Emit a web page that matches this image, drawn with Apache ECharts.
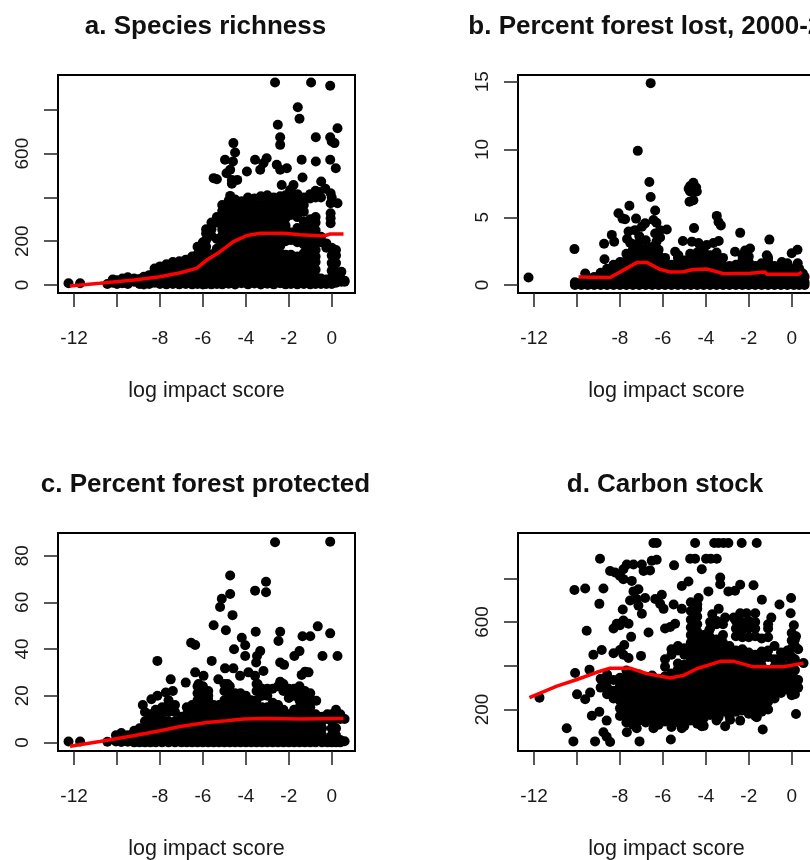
<!DOCTYPE html>
<html><head><meta charset="utf-8">
<style>html,body{margin:0;padding:0;background:#fff}#c{width:810px;height:860px}</style>
<script src="https://cdn.jsdelivr.net/npm/echarts@6/dist/echarts.min.js"></script>
</head><body><div id="c"></div>
<script>
const titles = ['a. Species richness','b. Percent forest lost, 2000-2012','c. Percent forest protected','d. Carbon stock'];
const xLabel = 'log impact score';
const xTicks = [-12,-10,-8,-6,-4,-2,0];
const xTickLabels = [-12,-8,-6,-4,-2,0];

// ---------- a. Species richness
const aTicks = [0,200,400,600,800];
const aTickLabels = [0,200,600];
const aPoints = [[-2.64,925],[-0.96,925],[-0.07,910],[-1.58,812],[-1.5,759],[-2.51,732],[-2.4,675],[-2.4,640],[0.27,716],[-0.74,675],[-0.07,675],[0,655],[0.13,648],[-4.58,648],[-4.5,605],[-4.97,572],[-4.6,564],[-4.73,526],[-4.9,510],[-5.5,488],[-5.35,483],[-4.65,480],[-4.4,480],[-4.65,462],[-4.73,407],[-3.95,518],[-3.57,572],[-3.03,579],[-3.18,556],[-3.33,526],[-2.56,549],[-2.4,526],[-2.09,533],[-1.4,572],[-0.74,564],[-0.07,572],[0.19,533],[-1.36,491],[-0.49,473],[-2.33,457],[-1.78,457],[-1.94,434],[-12.26,8],[-11.72,8],[-0.05,282],[-0.05,305],[-0.05,328],[-0.05,373],[0,400],[-0.05,419],[0.27,373],[-0.3,440],[-0.6,425]];
const aColumns = [
[-10.45,[5]],[-10.2,[10,25]],[-10,[22,5]],[-9.75,[30,8]],[-9.5,[35,5]],[-9.2,[15,30]],[-8.95,[5,28]],[-8.75,[2,38]],[-8.5,[5,30,45]],[-8.25,[10,40,60,75]],
[-8,[5,30,55,85]],[-7.7,[3,28,55,80,95]],[-7.4,[5,30,58,85,105]],[-7.1,[3,25,52,80,108]],[-6.8,[5,32,60,88,115]],[-6.5,[3,28,55,82,110,130]],[-6.25,[5,30,58,85,115,140,175]],[-6,[2,28,55,85,112,140,170,195]],
[-5.85,[5,32,60,88,115,145,175,205,235,255]],[-5.6,[3,30,58,85,112,140,225,255,285]],[-5.35,[5,32,60,88,115,142,165,210,285,310]],
[-5.1,[3,30,58,86,114,142,170,198,226,254,282,310,338,365]],[-4.8,[6,38,70,102,134,166,198,230,262,294,326,358,385]],[-4.5,[2,34,66,98,130,162,194,226,258,290,322,354,390]],
[-4.2,[8,42,76,110,144,178,212,246,280,314,348,382]],[-3.9,[3,36,69,102,135,168,201,234,267,300,333,366,400]],[-3.6,[7,40,72,106,140,172,205,238,272,305,338,372,395]],
[-3.3,[2,35,68,100,134,166,200,232,266,298,332,364,405]],[-3,[6,40,74,108,142,176,210,244,278,312,346,380,410]],[-2.7,[3,37,70,104,138,172,206,240,274,308,342,376,400]],
[-2.4,[8,42,76,110,144,178,212,246,280,314,348,382,405]],[-2.15,[3,36,70,104,138,200,235,270,305,340,375,410]],
[-1.9,[5,38,72,105,138,205,240,320,355,395,430]],[-1.6,[3,35,70,100,130,195,225,260,310,345,380,415]],[-1.3,[5,40,75,110,145,185,215,250,290,335,365,400]],
[-1,[3,35,70,105,140,175,205,240,270,300,395,415]],[-0.75,[5,38,70,105,130,160,190,215,250,285,310,400,430]],[-0.5,[5,30,195,220,400]],[-0.25,[5,25,170,190]],
[0,[5,35,65,100,135,170]],[0.2,[10,30,60,100,135,160]],[0.45,[15,25,60]],[0.6,[15,20]]
];
const aTrend = [[-12.2,-5],[-10.8,8],[-9.2,23],[-8,38],[-7.05,56],[-6.3,76],[-5.82,114],[-5.2,152],[-4.58,198],[-3.95,226],[-3.33,236],[-2.25,236],[-1.47,229],[-0.38,224],[-0.07,233],[0.55,233]];

// ---------- b. Percent forest lost
const bTicks = [0,5,10,15];
const bPoints = [[-12.26,0.56],[-10.12,2.65],[-6.57,14.9],[-7.17,9.9],[-6.63,7.6],[-6.57,6.5],[-4.58,7.55],[-4.73,7.3],[-4.45,7.2],[-4.8,7.1],[-4.58,6.95],[-4.42,6.9],[-4.73,6.9],[-4.58,6.25],[-4.76,6.15],[-7.56,5.85],[-8.07,5.3],[-7.88,4.9],[-7.76,4.85],[-7.25,4.9],[-6.36,5.5],[-6.44,4.8],[-6.83,4.55],[-6.98,4.3],[-6.3,4.6],[-5.82,4.1],[-6.13,4.05],[-4.55,4.2],[-3.49,5.1],[-3.41,4.65],[-3.3,4.4],[-2.4,3.85],[-1.04,3.35],[-5.07,3.25],[-8.38,3.7],[-8.74,3.05],[-8.27,3.2],[-7.6,3.95],[-7.3,4.05],[-7.67,3.4],[-7.52,3.1],[-6.36,3.8],[-6.13,3.5],[-6.3,3.2],[-4.65,3.2],[-4.34,3.1],[-3.96,2.95],[-3.65,3.1],[-3.4,3.25],[-5.43,2.45],[-5.28,2.2],[-4.73,2.3],[-4.25,2.7],[-2.64,2.45],[-2.17,2.55],[-1.94,2.7],[-1.16,2.2],[0.27,2.6],[0,2.35],[0.28,1.6],[0.52,0.85],[0.52,0.25],[-0.46,1.7],[-9.62,0.85],[-8.72,1.9],[-0.2,1.6]];
const bColumns = [
[-10.1,[0,0.2]],[-9.8,[0,0.2]],[-9.5,[0,0.4]],[-9.2,[0,0.3,0.6]],[-8.9,[0,0.45,0.9]],[-8.6,[0,0.4,0.8,1.2]],[-8.3,[0,0.45,0.9,1.5]],[-8,[0,0.4,0.85,1.3,1.7]],
[-7.7,[0,0.45,0.9,1.35,1.8,2.3]],[-7.4,[0,0.4,0.85,1.3,1.75,2.2,2.6,3]],[-7.1,[0,0.45,0.9,1.35,1.8,2.25,2.7,3.15,3.6]],[-6.8,[0,0.4,0.85,1.3,1.75,2.2,2.65,3.3]],
[-6.5,[0,0.45,0.9,1.35,1.8,2.3,2.8]],[-6.2,[0,0.4,0.85,1.3,1.75,2.2,2.6]],[-5.9,[0,0.45,0.9,1.35,2]],[-5.6,[0,0.4,0.85,1.5]],[-5.3,[0,0.45,0.9,1.4,2]],[-5,[0,0.4,0.85,1.3,1.8]],
[-4.7,[0,0.45,0.9,1.35,1.8,2.2]],[-4.4,[0,0.4,0.85,1.3,1.85,2.4]],[-4.1,[0,0.45,0.9,1.4,1.9,2.5]],[-3.8,[0,0.4,0.85,1.3,1.75,2.2]],[-3.5,[0,0.45,0.9,1.4,1.9,2.4]],[-3.2,[0,0.4,0.85,1.4,2]],
[-2.9,[0,0.45,0.9,1.4]],[-2.6,[0,0.4,0.85,1.5]],[-2.3,[0,0.45,0.9,1.35,1.8,2.2]],[-2,[0,0.4,0.85,1.3,1.7,2.1]],[-1.7,[0,0.45,0.9,1.4]],[-1.4,[0,0.4,0.85,1.2,1.6]],
[-1.1,[0,0.45,0.9,1.3,1.7,2]],[-0.8,[0,0.4,0.85,1.4]],[-0.5,[0,0.45,0.9,1.2]],[-0.2,[0,0.4,0.85,1.3]],[0.1,[0,0.45,0.9,1.2]],[0.35,[0,0.35,0.8,1.2]],[0.6,[0,0.2,0.6]]
];
const bTrend = [[-9.93,0.6],[-8.46,0.56],[-7.84,1.1],[-7.2,1.67],[-6.75,1.67],[-6.13,1.15],[-5.66,0.96],[-5.04,0.98],[-4.58,1.15],[-3.96,1.18],[-3.18,0.84],[-1.94,0.86],[-1.86,0.96],[-1.24,0.96],[-1.16,0.8],[0.31,0.8],[0.47,0.96]];

// ---------- c. Percent forest protected
const cTicks = [0,20,40,60,80];
const cPoints = [[-12.26,0.4],[-11.72,0.4],[-2.64,85.7],[-0.07,86],[-4.73,71.5],[-3.06,68.8],[-3.06,64.3],[-3.57,65],[-4.73,63.6],[-5.12,61.5],[-5.2,58],[-4.62,54.5],[-5.5,50.2],[-4.93,48],[-3.54,47.4],[-2.4,47.4],[-2.48,43.4],[-0.65,49.7],[-0.07,46.7],[-1.36,45.5],[-1,45.5],[-4.19,44.8],[-4.03,41.6],[-4.03,37],[-4.55,39.9],[-6.55,42.7],[-6.36,41.7],[-8.12,34.9],[-5.59,34.9],[-3.33,39.1],[-3.48,37],[-3.52,34.2],[-1.5,39.1],[-1.74,37],[-0.43,37],[0.27,37],[-2.4,34.2],[-2.22,33.2],[-4.97,31.7],[-4.58,31.7],[-3.18,30.6],[-1.24,30.3],[-1.08,30],[-1.4,28.9],[-6.36,30],[-5.97,28.5],[-4.27,28.5],[-3.88,30],[-3.57,28.5],[-7.5,27],[-5.28,27],[-6.8,25.6],[-2.4,26],[-7.4,22],[-7.73,21.4],[-8.12,20],[-8.4,18.5],[-8.8,16],[-0.72,17.8],[-6.2,25],[-4.85,25],[-3.45,25]];
const cColumns = [
[-10.45,[0.3]],[-10.05,[0.4,3]],[-9.8,[0.2,4]],[-9.5,[0.3,3]],[-9.2,[0,3,5]],[-8.95,[0,3,6]],[-8.7,[0,3,6,9,13]],[-8.45,[0,3,6,9,12]],[-8.2,[0,3,6,9,11.5,14]],
[-7.9,[0,3,6,9,12,15]],[-7.6,[0,3,6,9,13,16,18]],[-7.3,[0,3,6,9,13,16]],[-7,[0,3,6,9,11]],[-6.75,[0,3,6,9,12,15]],[-6.5,[0,3,6,9,13,16]],[-6.25,[0,3,6,9,12,15,18,21,24]],[-6,[0,3,6,9,12,15,18,21,24]],[-5.75,[0,3,6,9,12,15,18,20,22]],
[-5.5,[0,3,6,9,13,16]],[-5.25,[0,3,6,9,12,16]],[-5,[0,3,6,9,12,15,18,22,25]],[-4.75,[0,3,6,9,12,15,18,21,24]],[-4.5,[0,3,6,9,12,15,18,21]],[-4.25,[0,3,6,9,12,15,18,21]],[-4,[0,3,6,9,12,15,18,20]],[-3.75,[0,3,6,9,12,15,18]],
[-3.5,[0,3,6,9,12,14,18,22,25]],[-3.25,[0,3,6,9,12,15,20,23]],[-3,[0,3,6,9,12,15,20,23]],[-2.75,[0,3,6,9,12,15,17,23]],[-2.5,[0,3,6,9,12,16,24]],[-2.25,[0,3,6,9,12,14,22,25]],[-2,[0,3,6,9,12,19,23]],[-1.75,[0,3,6,9,12,14,20,23]],
[-1.5,[0,3,6,9,12,15,18,21,24]],[-1.25,[0,3,6,9,12,16,19,22]],[-1,[0,3,6,9,12,15,18,21]],[-0.75,[0,3,6,9,12]],[-0.45,[0,3,6,9,11]],[-0.2,[0,1,10,12]],[0,[0,3,6,9,12]],[0.2,[0,3,6,10,14]],[0.4,[0,1,10,12]],[0.6,[0.5,10]]
];
const cTrend = [[-12.19,-1.7],[-10.8,0.4],[-9.24,2.85],[-8,5],[-7.06,6.8],[-5.82,8.5],[-4.9,9.25],[-4.11,10],[-3.02,10.25],[-1.47,10],[0.55,10.25]];

// ---------- d. Carbon stock
const dTicks = [200,400,600,800];
const dTickLabels = [200,600];
const dPoints = [[-6.44,961],[-6.29,961],[-4.5,961],[-3.61,961],[-3.41,961],[-3.18,961],[-2.95,961],[-2.33,961],[-1.63,961],[-8.93,889],[-6.52,880],[-6.29,885],[-4.73,889],[-4.5,889],[-3.99,889],[-3.77,889],[-3.49,889],[-5.48,859],[-4.19,841],[-8.46,833],[-8.23,826],[-8,810],[-7.84,841],[-7.68,863],[-7.37,863],[-6.98,863],[-6.9,833],[-6.6,836],[-7.84,796],[-7.45,788],[-5.12,765],[-4.81,785],[-3.33,803],[-3.33,773],[-3.88,740],[-2.95,740],[-2.64,743],[-2.4,770],[-1.78,768],[-10.12,746],[-9.62,753],[-8.77,753],[-8.96,683],[-1.39,702],[-0.03,710],[-0.57,680],[-4.34,710],[-7.37,740],[-7.14,750],[-7.53,698],[-7.22,705],[-6.83,710],[-7.14,675],[-6.98,638],[-7.87,657],[-6.36,705],[-6.05,725],[-6.13,683],[-5.97,660],[-5.5,680],[-5.12,660],[-9.55,560],[-6.67,552],[-8.3,570],[-8.15,592],[-7.84,607],[-7.6,592],[-8,585],[-5.9,570],[-5.66,577],[-5.43,592],[-7.48,532],[-7.8,495],[-8,472],[-8.3,457],[-7.84,450],[-7.6,435],[-8.85,472],[-9.24,450],[-7.02,445],[-10.09,367],[-9.42,382],[0.55,412],[-10.48,114],[-10.17,54],[-9.16,54],[-8.77,96],[-8.62,75],[-8.46,51],[-7.09,54],[-5.63,63],[-6.44,114],[-7.68,96],[-7.22,114],[-5.12,114],[-4.19,123],[-3.41,164],[-3.1,123],[-2.87,153],[-2.4,149],[-1.35,108],[-1.63,164],[0.2,179],[-11.75,254],[-10,269],[-9.62,247],[-9.39,277],[-9.31,171],[-8.96,189],[-8.62,149],[-4.7,690],[-4.4,680],[-3.4,660],[-2.7,620],[-2.1,640],[-1.7,640],[-2.4,640],[-0.95,620],[-0.05,640],[0.1,585],[0.2,535],[-1.1,570],[-3.7,635],[-3.1,620],[-3.85,560]];
const dColumns = [
[-8.9,[300,340]],[-8.6,[270,300,330,360]],[-8.3,[250,285,335]],[-8,[170,205,240,275,310,345]],[-7.7,[140,175,210,245,280,315,350,378]],[-7.4,[130,165,200,235,268,300,335,365]],[-7.1,[150,185,220,255,290,325,360]],[-6.8,[140,175,210,245,280,315,350]],[-6.5,[150,185,220,255,290,325,355]],[-6.2,[130,165,200,235,270,305,340]],
[-5.9,[145,180,215,250,285,320,352,395,430]],[-5.6,[120,155,190,225,260,295,330,365,450,475]],[-5.3,[140,175,210,245,280,315,350,385,410,470,490]],[-5,[125,160,195,230,265,300,335,370,405,450,480]],
[-4.7,[150,185,220,255,290,325,360,395,430,470,505,540,575,610,650]],[-4.4,[135,170,205,240,275,310,345,380,415,450,485,520,555,590,625,660]],[-4.1,[125,160,195,230,265,300,335,370,405,440,475,510,540]],[-3.8,[175,210,245,280,315,350,385,420,455,490,530,570,600]],
[-3.5,[150,185,220,255,290,325,360,395,430,465,500,520,590,605]],[-3.2,[190,225,260,295,330,365,400,435,470,505,540,590]],[-2.9,[170,205,240,275,310,345,380,415,450,490]],[-2.6,[190,225,260,295,330,365,400,435,470,535,570,605]],
[-2.3,[195,230,265,300,335,370,405,440,475,530,565,600]],[-2,[180,215,250,285,320,355,390,425,460,530,570,605]],[-1.7,[170,205,240,275,310,345,380,415,450,535,570,600]],[-1.4,[190,225,260,295,330,365,400,430,465,525]],
[-1.1,[200,235,270,305,340,375,440,470,530,590]],[-0.8,[250,285,320,355,395,430,490]],[-0.5,[275,310,345,380,420,460]],[-0.2,[290,325,360,395,440,470]],[0,[265,300,335,370,410,440,480,515,550]],[0.15,[270,305,340,380,430,490,520]],[0.3,[300,335,475]]
];
const dTrend = [[-12.22,254],[-10.94,307],[-10,337],[-9.08,370],[-8.46,389],[-7.53,389],[-6.75,364],[-5.66,344],[-5.04,356],[-4.42,386],[-3.33,420],[-2.7,420],[-1.78,395],[-0.38,395],[0.55,412]];

const expand = (points, cols) => points.concat(cols.flatMap(([x, ys]) => ys.map(y => [x, y])));
const panels = [
  {left:58, top:75, yMin:-36.5, yMax:959, yT:aTicks, yL:aTickLabels, pts:expand(aPoints,aColumns), trend:aTrend, tx:200.5, ty:22},
  {left:518,top:75, yMin:-0.59, yMax:15.5, yT:bTicks, yL:bTicks, pts:expand(bPoints,bColumns), trend:bTrend, tx:662, ty:22},
  {left:58, top:533,yMin:-3.7, yMax:89.7, yT:cTicks, yL:cTicks, pts:expand(cPoints,cColumns), trend:cTrend, tx:200.5, ty:480},
  {left:518,top:533,yMin:10, yMax:1007, yT:dTicks, yL:dTickLabels, pts:expand(dPoints,dColumns), trend:dTrend, tx:660, ty:480}
];
const FONT='"Liberation Sans", Arial, sans-serif', TXT='#1a1a1a';
const tick={show:true,length:14,lineStyle:{color:'#222',width:1.5}};
const option={animation:false,backgroundColor:'#fff',
 title:panels.map((p,i)=>({text:titles[i],left:p.tx,top:p.ty,textAlign:'center',textVerticalAlign:'middle',
   textStyle:{fontFamily:FONT,fontWeight:'bold',fontSize:26,color:'#111'}})),
 grid:panels.map(p=>({left:p.left,top:p.top,width:297,height:218,show:true,borderColor:'#000',borderWidth:2,backgroundColor:'transparent',containLabel:false,outerBoundsMode:'none'})),
 xAxis:panels.map((p,i)=>({type:'value',gridIndex:i,min:-12.75,max:1.085,splitLine:{show:false},axisLine:{show:false,onZero:false},
   axisTick:{...tick,customValues:xTicks},
   axisLabel:{customValues:xTickLabels,margin:36,fontFamily:FONT,fontSize:19,color:TXT,formatter:v=>String(v)},
   name:xLabel,nameLocation:'middle',nameGap:87,nameMoveOverlap:false,nameTextStyle:{fontFamily:FONT,fontSize:21.5,color:TXT}})),
 yAxis:panels.map((p,i)=>({type:'value',gridIndex:i,min:p.yMin,max:p.yMax,splitLine:{show:false},axisLine:{show:false,onZero:false},
   axisTick:{...tick,customValues:p.yT},
   axisLabel:{customValues:p.yL,rotate:90,margin:26,fontFamily:FONT,fontSize:19,color:TXT,formatter:v=>String(v)}})),
 series:panels.flatMap((p,i)=>[
  {type:'scatter',xAxisIndex:i,yAxisIndex:i,data:p.pts,symbol:'circle',symbolSize:10,itemStyle:{color:'#000',opacity:1},silent:true,z:2},
  {type:'line',xAxisIndex:i,yAxisIndex:i,data:p.trend,showSymbol:false,symbol:'none',lineStyle:{color:'#f00',width:3.5},silent:true,z:3}
 ])
};
echarts.init(document.getElementById('c'),null,{renderer:'canvas'}).setOption(option);
</script></body></html>
